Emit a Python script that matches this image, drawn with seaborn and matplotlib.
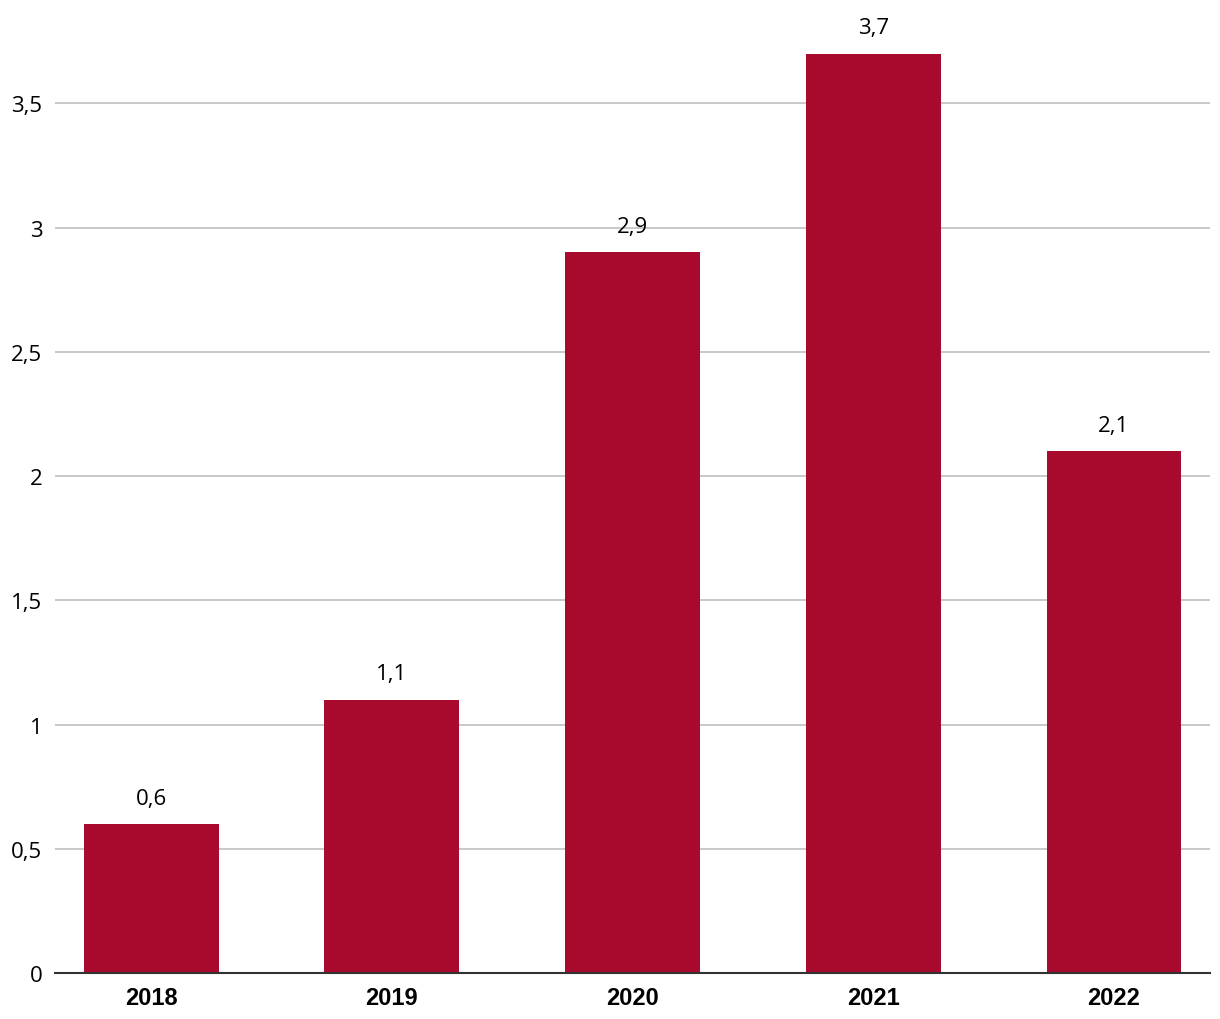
import seaborn as sns
import matplotlib.pyplot as plt
import pandas as pd

years = ["2018", "2019", "2020", "2021", "2022"]
values = [0.6, 1.1, 2.9, 3.7, 2.1]
yticks = [0, 0.5, 1, 1.5, 2, 2.5, 3, 3.5]

df = pd.DataFrame({"year": years, "value": values})

sns.set_style("white")
plt.rcParams["font.family"] = ["Open Sans", "DejaVu Sans"]
plt.rcParams["text.color"] = "black"
plt.rcParams["xtick.color"] = "black"
plt.rcParams["ytick.color"] = "black"

fig = plt.figure(figsize=(12.2, 10.2), dpi=100)
ax = fig.add_axes([0.045, 0.045, 0.947, 0.938])

sns.barplot(data=df, x="year", y="value", color="#A80A2E",
            width=0.56, saturation=1, linewidth=0, ax=ax, zorder=3)

ax.set_xlim(-0.4, 4.4)
ax.set_ylim(0, 3.85)
ax.set_yticks(yticks)
ax.set_yticklabels([f"{t:g}".replace(".", ",") for t in yticks], fontsize=16)
ax.yaxis.grid(True, color="#c4c4c4", linewidth=1.3, zorder=0)
ax.tick_params(axis="both", length=0)
ax.tick_params(axis="y", pad=9)
ax.tick_params(axis="x", pad=9)
for lbl in ax.get_xticklabels():
    lbl.set_fontfamily("Liberation Sans")
    lbl.set_fontweight("bold")
    lbl.set_fontsize(17)

for side in ["top", "right", "left"]:
    ax.spines[side].set_visible(False)
ax.spines["bottom"].set_color("#333333")
ax.spines["bottom"].set_linewidth(1.5)
ax.spines["bottom"].set_zorder(4)

for i, v in enumerate(values):
    ax.annotate(f"{v:g}".replace(".", ","), (i, v), xytext=(0, 11),
                textcoords="offset points", ha="center", va="bottom",
                fontsize=16)

ax.set_xlabel("")
ax.set_ylabel("")

plt.savefig("out.png", dpi=100)
